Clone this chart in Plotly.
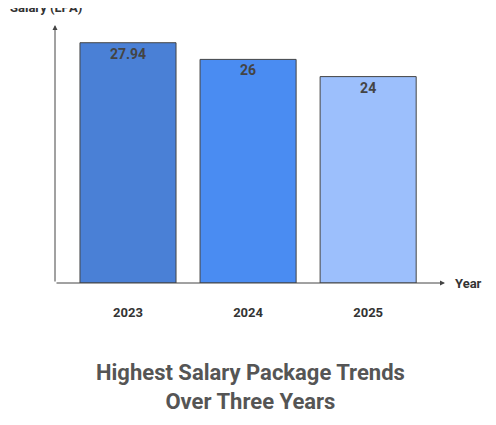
import plotly.graph_objects as go

years = ["2023", "2024", "2025"]
salaries = [27.94, 26, 24]
labels = ["27.94", "26", "24"]
colors = ["#4a80d6", "#4a8cf2", "#9cbffc"]

fig = go.Figure(go.Bar(
    x=years, y=salaries, text=labels, textposition="inside", insidetextanchor="end",
    textfont=dict(family="Roboto", size=14, color="#444444", weight="bold"),
    marker=dict(color=colors, line=dict(color="#444444", width=1)), width=0.8,
    hoverinfo="skip"))

fig.update_layout(
    width=488, height=417, margin=dict(l=47, r=51, t=17, b=142),
    paper_bgcolor="white", plot_bgcolor="white", showlegend=False,
    font=dict(family="Roboto", color="#333333"),
    xaxis=dict(range=[-0.608, 2.64], showgrid=False, zeroline=False, showline=False,
               ticks="", tickfont=dict(size=13, color="#333333", weight="bold"), ticklabelstandoff=20),
    yaxis=dict(range=[0, 30], showgrid=False, zeroline=False, showline=False, showticklabels=False),
)
arrow = dict(showarrow=True, arrowhead=2, arrowsize=1, arrowwidth=1, arrowcolor="#444444",
             axref="pixel", ayref="pixel", text="", xref="paper", yref="paper")
fig.add_annotation(x=0, y=1, ax=0, ay=258, **arrow)
fig.add_annotation(x=1, y=0, ax=-390, ay=0, **arrow)
fig.add_annotation(x=-0.12, y=1.03, xref="paper", yref="paper", text="<b>Salary (LPA)</b>",
                   showarrow=False, xanchor="left", yanchor="bottom", font=dict(size=13, color="#333333"))
fig.add_annotation(x=1.02, y=0, xref="paper", yref="paper", text="<b>Year</b>",
                   showarrow=False, xanchor="left", yanchor="middle", font=dict(size=13, color="#333333"))
fig.add_annotation(x=0.5, y=-0.29, xref="paper", yref="paper",
                   text="<b>Highest Salary Package Trends<br>Over Three Years</b>",
                   showarrow=False, xanchor="center", yanchor="top",
                   font=dict(size=22, color="#555555"))
fig.write_html("out.html")
